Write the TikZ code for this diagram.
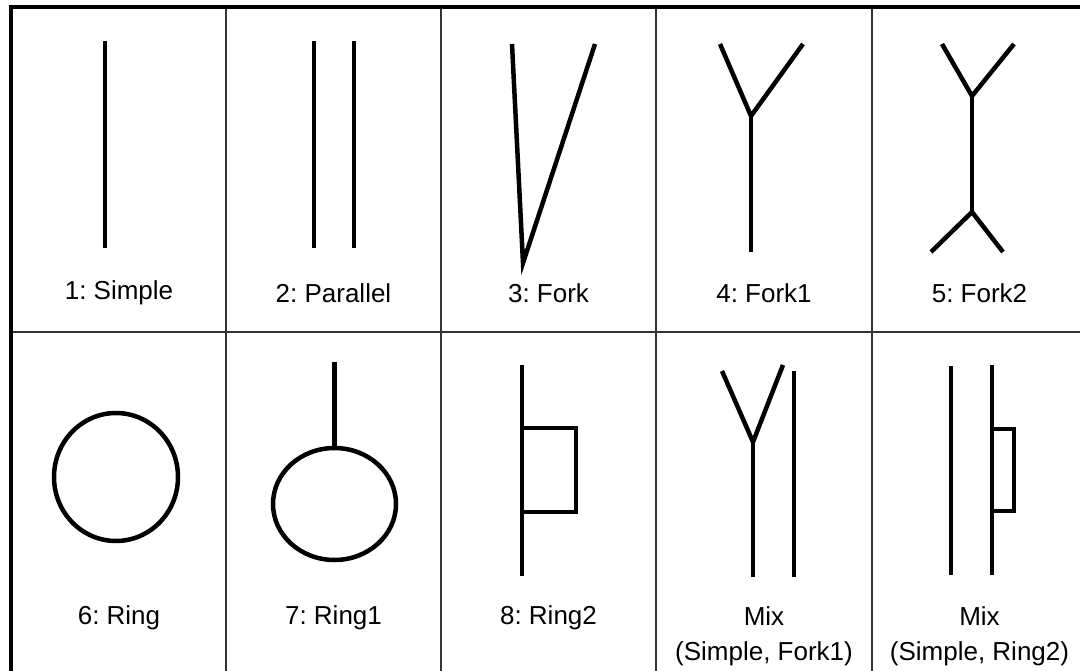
\documentclass[tikz,border=0pt]{standalone}
\usepackage{fontspec}
\setmainfont{Liberation Sans}
\frenchspacing
\begin{document}
\begin{tikzpicture}[x=1pt,y=-1pt,
  glyph/.style={line width=4.5pt,line cap=butt,line join=miter},
  gridline/.style={line width=1.5pt,draw=black!80},
  frameline/.style={line width=4pt},
  lbl/.style={font=\fontsize{26}{35}\selectfont,align=center,inner sep=0pt}]
\useasboundingbox (0,0) rectangle (1080,671);
\fill[white] (0,0) rectangle (1080,671);
% grid
\draw[gridline] (12,332) -- (1080,332);
\foreach \x in {226,441,656,872} \draw[gridline] (\x,9) -- (\x,671);
\draw[frameline] (10.7,671) -- (10.7,7.5) -- (1080,7.5);
% 1 simple
\draw[glyph] (105,41) -- (105,248);
% 2 parallel
\draw[glyph] (314,41) -- (314,248);
\draw[glyph] (354,41) -- (354,248);
% 3 fork
\draw[glyph] (512,44) -- (523,263) -- (595,44);
% 4 fork1
\coordinate (f4) at (751,116);
\draw[glyph] (720,44) -- (f4) -- (803,44);
\draw[glyph] (f4) -- (751,252);
% 5 fork2
\coordinate (f5a) at (972,96);
\coordinate (f5b) at (972,212);
\draw[glyph] (942,44) -- (f5a) -- (1014,44);
\draw[glyph] (f5a) -- (f5b);
\draw[glyph] (931,252) -- (f5b) -- (1003,252);
% 6 ring
\draw[glyph] (116,477) ellipse [x radius=62, y radius=64];
% 7 ring1
\draw[glyph] (334.5,362) -- (334.5,448);
\draw[glyph] (334.5,504) ellipse [x radius=61.5, y radius=56];
% 8 ring2
\draw[glyph] (522,365) -- (522,576);
\draw[glyph] (522,428) -- (576,428) -- (576,512) -- (522,512);
% mix simple fork1
\coordinate (f9) at (753,442);
\draw[glyph] (722,371) -- (f9) -- (783,365);
\draw[glyph] (f9) -- (753,577);
\draw[glyph] (794,371) -- (794,577);
% mix simple ring2
\draw[glyph] (951,366) -- (951,575);
\draw[glyph] (992,365) -- (992,575);
\draw[glyph] (992,429) -- (1014,429) -- (1014,511) -- (992,511);
% labels
\node[lbl] (l1) at (119,293) {1: Simple};
\node[lbl] (l2) at (333.5,293) {2: Parallel};
\node[lbl] (l3) at (548.5,293) {3: Fork};
\node[lbl] (l4) at (764,293) {4: Fork1};
\node[lbl] (l5) at (979.5,293) {5: Fork2};
\node[lbl] (l6) at (119,618) {6: Ring};
\node[lbl] (l7) at (333.5,618) {7: Ring1};
\node[lbl] (l8) at (548.5,618) {8: Ring2};
\node[lbl] (l9) at (764,636) {Mix\\(Simple, Fork1)};
\node[lbl] (l10) at (979.5,636) {Mix\\(Simple, Ring2)};
\end{tikzpicture}
\end{document}
